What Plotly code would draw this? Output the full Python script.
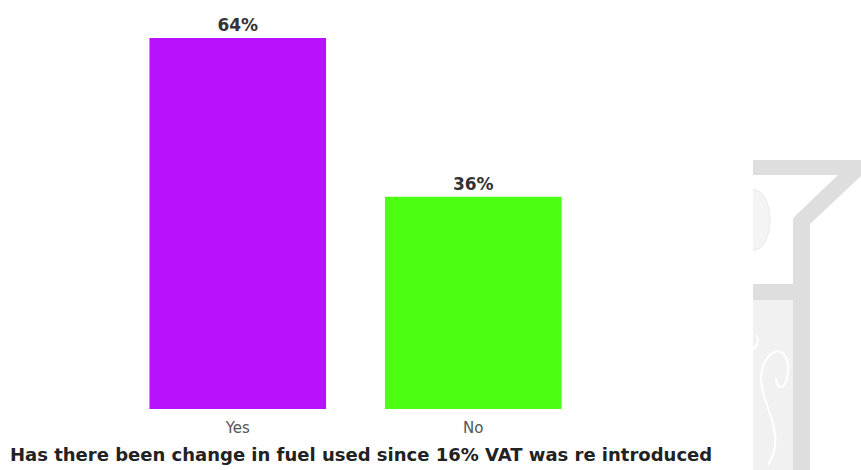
import plotly.graph_objects as go

categories = ["Yes", "No"]
values = [63.6, 36.4]
bar_colors = ["#b812fc", "#4cff12"]
title_text = "Has there been change in fuel used since 16% VAT was re introduced"

W, H = 861, 470
PL, PR, PT, PB = 120, 591, 0, 409  # plot area in pixels


def px(x):
    return x / W


def py(y):
    return 1 - y / H


fig = go.Figure(
    go.Bar(
        x=categories,
        y=values,
        marker=dict(color=bar_colors, line=dict(width=0)),
        texttemplate="%{y:.0f}%",
        textposition="outside",
        textfont=dict(family="DejaVu Sans", size=17, color="#333333", weight="bold"),
        cliponaxis=False,
        width=0.75,
    )
)

# faint watermark decoration on the right
grey = "#dedede"
light = "#f1f1f1"
shapes = [
    dict(type="rect", xref="paper", yref="paper", x0=px(753), x1=px(793), y0=py(300), y1=py(470),
         fillcolor=light, line_width=0, layer="below"),
    dict(type="circle", xref="paper", yref="paper", x0=px(738), x1=px(770), y0=py(250), y1=py(190),
         fillcolor="#f4f4f4", line=dict(color="#e8e8e8", width=1), layer="below"),
    dict(type="rect", xref="paper", yref="paper", x0=px(720), x1=px(753), y0=py(300), y1=py(160),
         fillcolor="white", line_width=0, layer="below"),
    dict(type="path", xref="paper", yref="paper",
         path=f"M {px(753)} {py(160)} L {px(861)} {py(160)} L {px(861)} {py(176)} "
              f"L {px(810)} {py(224)} L {px(810)} {py(470)} L {px(793)} {py(470)} "
              f"L {px(793)} {py(218)} L {px(838)} {py(175)} L {px(753)} {py(175)} Z",
         fillcolor=grey, line_width=0, layer="below"),
    dict(type="rect", xref="paper", yref="paper", x0=px(753), x1=px(793), y0=py(300), y1=py(284),
         fillcolor=grey, line_width=0, layer="below"),
    dict(type="path", xref="paper", yref="paper",
         path=f"M {px(768)} {py(465)} C {px(790)} {py(430)}, {px(755)} {py(400)}, {px(762)} {py(370)} "
              f"C {px(768)} {py(345)}, {px(790)} {py(345)}, {px(788)} {py(372)} "
              f"C {px(786)} {py(392)}, {px(776)} {py(390)}, {px(776)} {py(378)}",
         line=dict(color="#ffffff", width=2), layer="below"),
    dict(type="path", xref="paper", yref="paper",
         path=f"M {px(753)} {py(350)} C {px(758)} {py(345)}, {px(760)} {py(340)}, {px(756)} {py(335)}",
         line=dict(color="#ffffff", width=2), layer="below"),
]

fig.update_layout(
    width=W,
    height=H,
    margin=dict(l=0, r=0, t=0, b=0),
    paper_bgcolor="white",
    plot_bgcolor="rgba(0,0,0,0)",
    showlegend=False,
    bargap=0.25,
    xaxis=dict(
        domain=[PL / W, PR / W],
        showgrid=False, zeroline=False, showline=False, ticks="",
        tickfont=dict(family="DejaVu Sans", size=15, color="#555555"),
        ticklabelstandoff=8,
        range=[-0.5, 1.5],
    ),
    yaxis=dict(
        domain=[1 - PB / H, 1 - PT / H],
        visible=False,
        range=[0, (PB - PT) / (371 / 63.6)],
    ),
    shapes=shapes,
    annotations=[
        dict(text=title_text, x=px(361), y=py(454), xref="paper", yref="paper",
             xanchor="center", yanchor="middle", showarrow=False,
             font=dict(family="DejaVu Sans", size=18, color="#222222", weight="bold"))
    ],
)

fig.write_html("out.html")
